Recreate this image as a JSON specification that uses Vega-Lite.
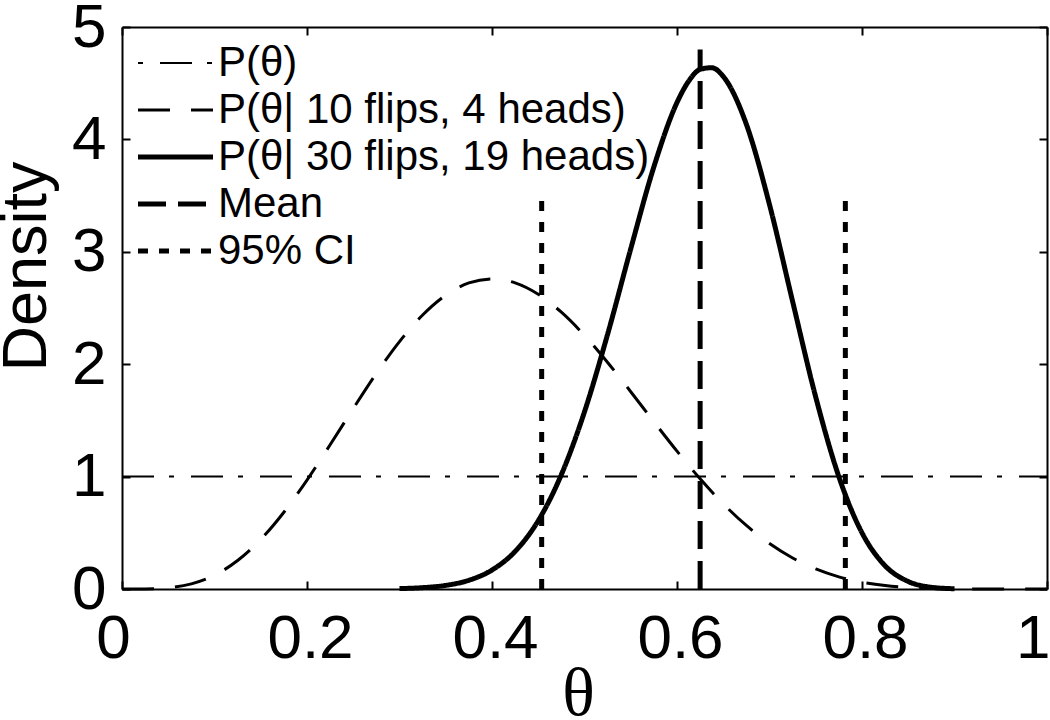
{
  "$schema": "https://vega.github.io/schema/vega-lite/v6.json",
  "width": 925,
  "height": 562,
  "autosize": {"type": "none"},
  "padding": {"left": 122, "top": 27, "right": 3, "bottom": 131},
  "background": "white",
  "config": {
    "view": {"stroke": null},
    "font": "Liberation Sans"
  },
  "datasets": {
    "curves": [
      {"series": "P(θ)", "x": 0, "y": 1},
      {"series": "P(θ)", "x": 1, "y": 1},
      {"series": "P(θ| 10 flips, 4 heads)", "x": 0, "y": 0},
      {"series": "P(θ| 10 flips, 4 heads)", "x": 0.025, "y": 0.0008},
      {"series": "P(θ| 10 flips, 4 heads)", "x": 0.05, "y": 0.0106},
      {"series": "P(θ| 10 flips, 4 heads)", "x": 0.075, "y": 0.0458},
      {"series": "P(θ| 10 flips, 4 heads)", "x": 0.1, "y": 0.1228},
      {"series": "P(θ| 10 flips, 4 heads)", "x": 0.125, "y": 0.2531},
      {"series": "P(θ| 10 flips, 4 heads)", "x": 0.15, "y": 0.4411},
      {"series": "P(θ| 10 flips, 4 heads)", "x": 0.175, "y": 0.6831},
      {"series": "P(θ| 10 flips, 4 heads)", "x": 0.2, "y": 0.9689},
      {"series": "P(θ| 10 flips, 4 heads)", "x": 0.225, "y": 1.2829},
      {"series": "P(θ| 10 flips, 4 heads)", "x": 0.25, "y": 1.606},
      {"series": "P(θ| 10 flips, 4 heads)", "x": 0.275, "y": 1.9185},
      {"series": "P(θ| 10 flips, 4 heads)", "x": 0.3, "y": 2.2013},
      {"series": "P(θ| 10 flips, 4 heads)", "x": 0.325, "y": 2.4377},
      {"series": "P(θ| 10 flips, 4 heads)", "x": 0.35, "y": 2.6143},
      {"series": "P(θ| 10 flips, 4 heads)", "x": 0.375, "y": 2.7228},
      {"series": "P(θ| 10 flips, 4 heads)", "x": 0.4, "y": 2.7591},
      {"series": "P(θ| 10 flips, 4 heads)", "x": 0.425, "y": 2.7237},
      {"series": "P(θ| 10 flips, 4 heads)", "x": 0.45, "y": 2.6221},
      {"series": "P(θ| 10 flips, 4 heads)", "x": 0.475, "y": 2.4623},
      {"series": "P(θ| 10 flips, 4 heads)", "x": 0.5, "y": 2.2559},
      {"series": "P(θ| 10 flips, 4 heads)", "x": 0.525, "y": 2.0157},
      {"series": "P(θ| 10 flips, 4 heads)", "x": 0.55, "y": 1.7553},
      {"series": "P(θ| 10 flips, 4 heads)", "x": 0.575, "y": 1.488},
      {"series": "P(θ| 10 flips, 4 heads)", "x": 0.6, "y": 1.2263},
      {"series": "P(θ| 10 flips, 4 heads)", "x": 0.625, "y": 0.9802},
      {"series": "P(θ| 10 flips, 4 heads)", "x": 0.65, "y": 0.7579},
      {"series": "P(θ| 10 flips, 4 heads)", "x": 0.675, "y": 0.5651},
      {"series": "P(θ| 10 flips, 4 heads)", "x": 0.7, "y": 0.4043},
      {"series": "P(θ| 10 flips, 4 heads)", "x": 0.725, "y": 0.276},
      {"series": "P(θ| 10 flips, 4 heads)", "x": 0.75, "y": 0.1784},
      {"series": "P(θ| 10 flips, 4 heads)", "x": 0.775, "y": 0.1081},
      {"series": "P(θ| 10 flips, 4 heads)", "x": 0.8, "y": 0.0606},
      {"series": "P(θ| 10 flips, 4 heads)", "x": 0.825, "y": 0.0307},
      {"series": "P(θ| 10 flips, 4 heads)", "x": 0.85, "y": 0.0137},
      {"series": "P(θ| 10 flips, 4 heads)", "x": 0.875, "y": 0.0052},
      {"series": "P(θ| 10 flips, 4 heads)", "x": 0.9, "y": 0.0015},
      {"series": "P(θ| 10 flips, 4 heads)", "x": 0.925, "y": 0.0003},
      {"series": "P(θ| 10 flips, 4 heads)", "x": 0.95, "y": 0},
      {"series": "P(θ| 10 flips, 4 heads)", "x": 1, "y": 0},
      {"series": "P(θ| 30 flips, 19 heads)", "x": 0.3, "y": 0.0039},
      {"series": "P(θ| 30 flips, 19 heads)", "x": 0.325, "y": 0.0119},
      {"series": "P(θ| 30 flips, 19 heads)", "x": 0.35, "y": 0.0322},
      {"series": "P(θ| 30 flips, 19 heads)", "x": 0.375, "y": 0.0776},
      {"series": "P(θ| 30 flips, 19 heads)", "x": 0.4, "y": 0.1689},
      {"series": "P(θ| 30 flips, 19 heads)", "x": 0.425, "y": 0.3346},
      {"series": "P(θ| 30 flips, 19 heads)", "x": 0.45, "y": 0.6079},
      {"series": "P(θ| 30 flips, 19 heads)", "x": 0.475, "y": 1.0179},
      {"series": "P(θ| 30 flips, 19 heads)", "x": 0.5, "y": 1.577},
      {"series": "P(θ| 30 flips, 19 heads)", "x": 0.525, "y": 2.267},
      {"series": "P(θ| 30 flips, 19 heads)", "x": 0.55, "y": 3.027},
      {"series": "P(θ| 30 flips, 19 heads)", "x": 0.575, "y": 3.756},
      {"series": "P(θ| 30 flips, 19 heads)", "x": 0.6, "y": 4.328},
      {"series": "P(θ| 30 flips, 19 heads)", "x": 0.6125, "y": 4.517},
      {"series": "P(θ| 30 flips, 19 heads)", "x": 0.625, "y": 4.623},
      {"series": "P(θ| 30 flips, 19 heads)", "x": 0.6375, "y": 4.638},
      {"series": "P(θ| 30 flips, 19 heads)", "x": 0.65, "y": 4.56},
      {"series": "P(θ| 30 flips, 19 heads)", "x": 0.675, "y": 4.134},
      {"series": "P(θ| 30 flips, 19 heads)", "x": 0.7, "y": 3.42},
      {"series": "P(θ| 30 flips, 19 heads)", "x": 0.725, "y": 2.558},
      {"series": "P(θ| 30 flips, 19 heads)", "x": 0.75, "y": 1.707},
      {"series": "P(θ| 30 flips, 19 heads)", "x": 0.775, "y": 0.999},
      {"series": "P(θ| 30 flips, 19 heads)", "x": 0.8, "y": 0.4999},
      {"series": "P(θ| 30 flips, 19 heads)", "x": 0.825, "y": 0.2065},
      {"series": "P(θ| 30 flips, 19 heads)", "x": 0.85, "y": 0.0668},
      {"series": "P(θ| 30 flips, 19 heads)", "x": 0.875, "y": 0.0156},
      {"series": "P(θ| 30 flips, 19 heads)", "x": 0.9, "y": 0.0023}
    ],
    "rules": [
      {"series": "Mean", "x": 0.625, "y": 0, "y2": 4.8},
      {"series": "95% CI", "x": 0.4537, "y": 0, "y2": 3.46},
      {"series": "95% CI", "x": 0.782, "y": 0, "y2": 3.46}
    ]
  },
  "layer": [
    {
      "data": {"name": "curves"},
      "transform": [{"filter": {"field": "series", "equal": "P(θ)"}}],
      "mark": {"type": "line", "color": "black", "strokeWidth": 2},
      "encoding": {
        "x": {
          "field": "x", "type": "quantitative",
          "scale": {"domain": [0, 1], "nice": false, "zero": false},
          "axis": {
            "orient": "bottom", "values": [0, 0.2, 0.4, 0.6, 0.8, 1], "format": "~g",
            "grid": false, "zindex": 1,
            "domainColor": "black", "domainWidth": 2,
            "tickColor": "black", "tickWidth": 2, "tickSize": -8,
            "labelFont": "Liberation Sans", "labelFontSize": 62, "labelColor": "black",
            "labelPadding": 27, "labelFlush": false, "labelOverlap": false,
            "labelOffset": {"condition": {"test": "datum.value == 0", "value": -9}, "value": 3},
            "labelAlign": {"condition": {"test": "datum.value == 1", "value": "right"}, "value": "center"},
            "title": "θ", "titleFont": "Liberation Serif", "titleFontSize": 68,
            "titleFontWeight": "normal", "titleColor": "black",
            "titleX": 456, "titleY": 125, "titleAlign": "center", "titleBaseline": "alphabetic"
          }
        },
        "y": {
          "field": "y", "type": "quantitative",
          "scale": {"domain": [0, 5], "nice": false},
          "axis": {
            "orient": "left", "values": [0, 1, 2, 3, 4, 5],
            "grid": false, "zindex": 1,
            "domainColor": "black", "domainWidth": 2,
            "tickColor": "black", "tickWidth": 2, "tickSize": -8,
            "labelFont": "Liberation Sans", "labelFontSize": 62, "labelColor": "black",
            "labelPadding": 24, "labelFlush": false, "labelOverlap": false,
            "title": "Density", "titleFont": "Liberation Sans", "titleFontSize": 63,
            "titleFontWeight": "normal", "titleColor": "black",
            "titleAngle": 270, "titleX": -77, "titleY": 239,
            "titleAlign": "center", "titleBaseline": "alphabetic"
          }
        },
        "strokeDash": {
          "field": "series", "type": "nominal",
          "scale": {
            "domain": ["P(θ)", "P(θ| 10 flips, 4 heads)", "P(θ| 30 flips, 19 heads)", "Mean", "95% CI"],
            "range": [[32, 15, 5, 17], [32, 21], [1, 0], [28, 12], [10, 11]]
          },
          "legend": {
            "orient": "none", "legendX": 16, "legendY": 15, "padding": 0,
            "title": null, "symbolType": "stroke", "symbolSize": 5625,
            "symbolStrokeColor": "black", "symbolOffset": 0,
            "labelFont": "Liberation Sans", "labelFontSize": 42, "labelColor": "black",
            "labelLimit": 2000, "labelOffset": 5, "rowPadding": 5,
            "encode": {
              "symbols": {
                "update": {
                  "x": {"value": 37.5},
                  "strokeWidth": {"signal": "datum.value === 'P(θ)' ? 2 : datum.value === 'P(θ| 10 flips, 4 heads)' ? 3 : 5"},
                  "strokeDashOffset": {"signal": "datum.value === 'P(θ)' ? 47 : 0"}
                }
              },
              "labels": {
                "update": {
                  "x": {"value": 80}
                }
              }
            }
          }
        }
      }
    },
    {
      "data": {"name": "curves"},
      "transform": [{"filter": {"field": "series", "equal": "P(θ| 10 flips, 4 heads)"}}],
      "mark": {"type": "line", "color": "black", "strokeWidth": 3, "interpolate": "monotone"},
      "encoding": {
        "x": {"field": "x", "type": "quantitative", "axis": null},
        "y": {"field": "y", "type": "quantitative", "axis": null},
        "strokeDash": {"field": "series", "type": "nominal"}
      }
    },
    {
      "data": {"name": "curves"},
      "transform": [{"filter": {"field": "series", "equal": "P(θ| 30 flips, 19 heads)"}}],
      "mark": {"type": "line", "color": "black", "strokeWidth": 5, "interpolate": "monotone"},
      "encoding": {
        "x": {"field": "x", "type": "quantitative", "axis": null},
        "y": {"field": "y", "type": "quantitative", "axis": null},
        "strokeDash": {"field": "series", "type": "nominal"}
      }
    },
    {
      "data": {"name": "rules"},
      "mark": {"type": "rule", "color": "black", "strokeWidth": 5},
      "encoding": {
        "x": {"field": "x", "type": "quantitative", "axis": null},
        "y": {"field": "y", "type": "quantitative", "axis": null},
        "y2": {"field": "y2"},
        "strokeDash": {"field": "series", "type": "nominal"}
      }
    },
    {
      "data": {"name": "rules"},
      "mark": {"type": "point", "opacity": 0},
      "encoding": {
        "x": {
          "field": "x", "type": "quantitative",
          "axis": {
            "orient": "top", "values": [0, 0.2, 0.4, 0.6, 0.8, 1], "labels": false,
            "grid": false, "zindex": 1, "title": null,
            "domainColor": "black", "domainWidth": 2,
            "tickColor": "black", "tickWidth": 2, "tickSize": -8
          }
        },
        "y": {
          "field": "y", "type": "quantitative",
          "axis": {
            "orient": "right", "values": [0, 1, 2, 3, 4, 5], "labels": false,
            "grid": false, "zindex": 1, "title": null,
            "domainColor": "black", "domainWidth": 2,
            "tickColor": "black", "tickWidth": 2, "tickSize": -8
          }
        }
      }
    }
  ],
  "resolve": {"axis": {"x": "independent", "y": "independent"}}
}
